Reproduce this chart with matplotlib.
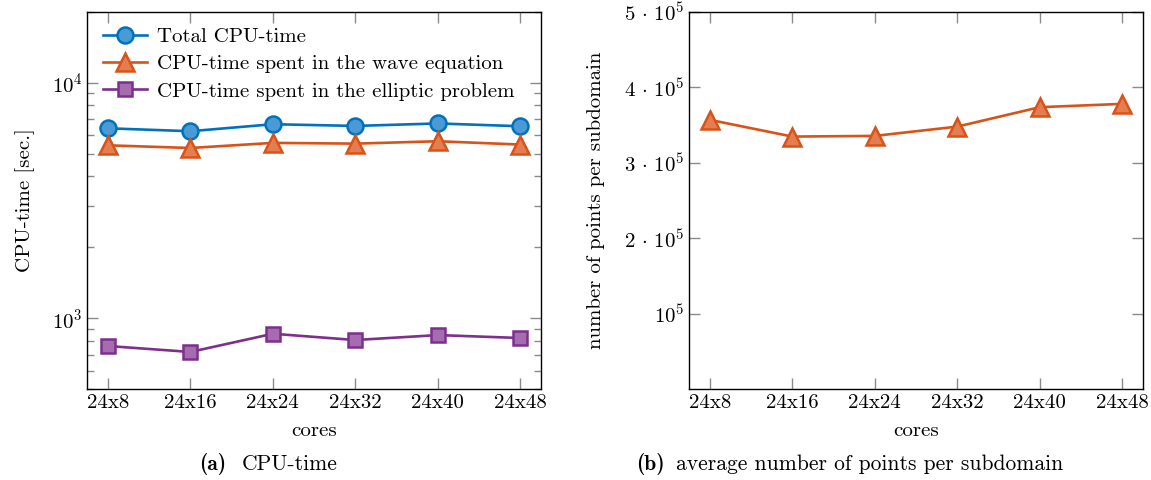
import matplotlib
matplotlib.use("Agg")
import matplotlib.pyplot as plt
from matplotlib.ticker import LogLocator, NullFormatter, FixedLocator, FixedFormatter

plt.rcParams['font.family'] = ['cmr10']
plt.rcParams['mathtext.fontset'] = 'cm'
plt.rcParams['axes.formatter.use_mathtext'] = True
plt.rcParams['axes.unicode_minus'] = False

cores = ["24x8", "24x16", "24x24", "24x32", "24x40", "24x48"]
total_cpu = [6400, 6220, 6660, 6550, 6710, 6530]
wave_cpu = [5420, 5280, 5550, 5510, 5640, 5460]
elliptic_cpu = [763, 720, 860, 809, 849, 825]
points_per_subdomain = [356700, 334600, 335500, 347800, 373500, 377900]

right_ticks = [1e5, 2e5, 3e5, 4e5, 5e5]
right_ticklabels = [r'$10^5$', r'$2\,\cdot\,10^5$', r'$3\,\cdot\,10^5$',
                    r'$4\,\cdot\,10^5$', r'$5\,\cdot\,10^5$']

BLUE, BLUE_F = '#0072BD', '#4A9AD6'
ORANGE, ORANGE_F = '#D95319', '#E47E50'
PURPLE, PURPLE_F = '#7E2F8E', '#A56CB0'

FS = 15
CAP_FS = 15.5
x = list(range(len(cores)))

fig = plt.figure(figsize=(11.51, 4.8), dpi=100)
ax1 = fig.add_axes([0.0758, 0.189, 0.3942, 0.7867])
ax2 = fig.add_axes([0.5989, 0.189, 0.3939, 0.7867])


def style_axes(ax):
    for s in ax.spines.values():
        s.set_linewidth(1.0)
        s.set_color('black')
    ax.tick_params(which='both', direction='in', top=True, right=True,
                   color='#8a8a8a', labelsize=FS, width=1.0)
    ax.tick_params(which='major', length=8)
    ax.tick_params(which='minor', length=5)
    ax.tick_params(axis='x', which='minor', top=False, bottom=False)
    ax.set_xticks(x)
    ax.set_xticklabels(cores)
    ax.set_xlim(-0.25, 5.25)
    ax.set_xlabel('cores', fontsize=FS, labelpad=7)


lw = 1.9
ax1.plot(x, total_cpu, '-o', color=BLUE, mfc=BLUE_F, mec=BLUE, ms=11.5, mew=1.8, lw=lw,
         label='Total CPU-time')
ax1.plot(x, wave_cpu, '-^', color=ORANGE, mfc=ORANGE_F, mec=ORANGE, ms=12.5, mew=1.8, lw=lw,
         label='CPU-time spent in the wave equation')
ax1.plot(x, elliptic_cpu, '-s', color=PURPLE, mfc=PURPLE_F, mec=PURPLE, ms=10.5, mew=1.8, lw=lw,
         label='CPU-time spent in the elliptic problem')
ax1.set_yscale('log')
ax1.set_ylim(500, 20000)
ax1.yaxis.set_major_locator(LogLocator(base=10))
ax1.yaxis.set_minor_locator(LogLocator(base=10, subs=range(2, 10)))
ax1.yaxis.set_minor_formatter(NullFormatter())
style_axes(ax1)
ax1.set_ylabel('CPU-time [sec.]', fontsize=FS, labelpad=12)
ax1.legend(loc='upper left', frameon=False, fontsize=FS, handlelength=2.1,
           handletextpad=0.5, labelspacing=0.42, borderaxespad=0.35,
           bbox_to_anchor=(0.0, 1.0))

ax2.plot(x, points_per_subdomain, '-^', color=ORANGE, mfc=ORANGE_F, mec=ORANGE, ms=12.5,
         mew=1.8, lw=lw)
ax2.set_ylim(0, 5e5)
ax2.yaxis.set_major_locator(FixedLocator(right_ticks))
ax2.yaxis.set_major_formatter(FixedFormatter(right_ticklabels))
style_axes(ax2)
ax2.set_ylabel('number of points per subdomain', fontsize=FS, labelpad=14)

fig.text(0.1729, 0.021, '(a)', fontsize=CAP_FS, family='cmb10', ha='left', va='baseline')
fig.text(0.2103, 0.021, 'CPU-time', fontsize=CAP_FS, ha='left', va='baseline')
fig.text(0.5526, 0.021, '(b)', fontsize=CAP_FS, family='cmb10', ha='left', va='baseline')
fig.text(0.5873, 0.021, 'average number of points per subdomain', fontsize=CAP_FS,
         ha='left', va='baseline')

fig.savefig('out.png', dpi=100)
